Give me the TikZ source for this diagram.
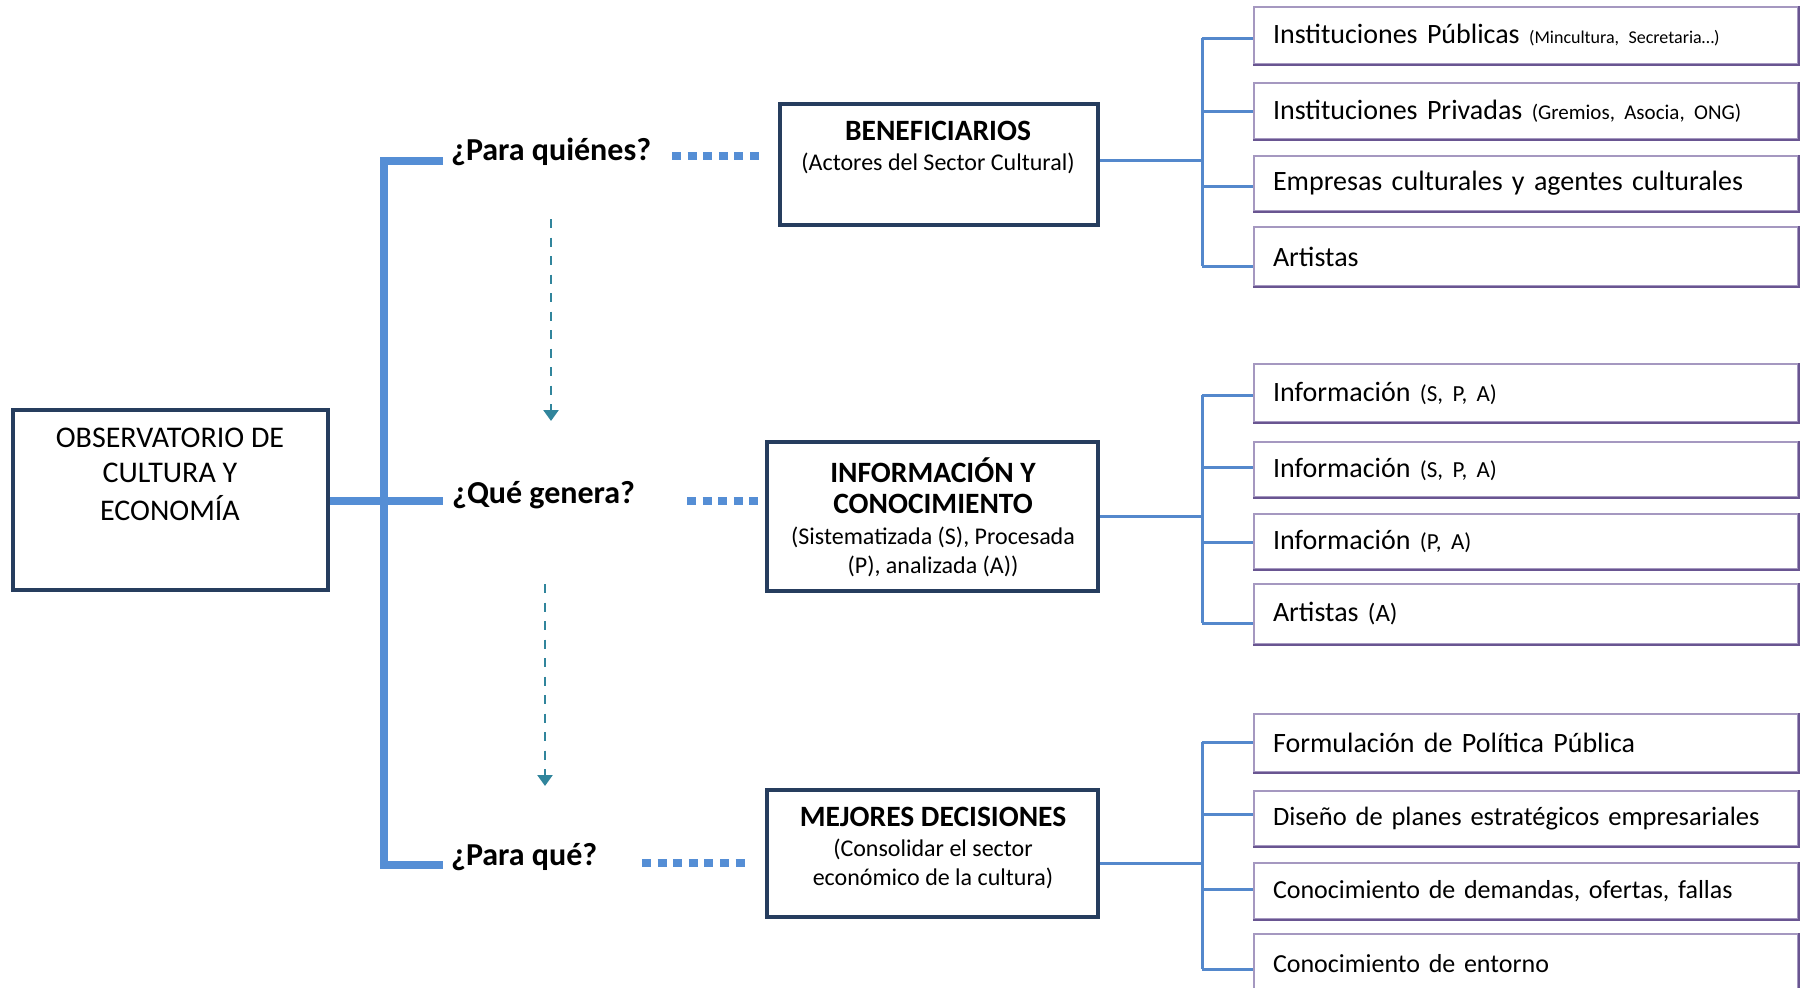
\documentclass[tikz,border=0pt]{standalone}
\usepackage{fontspec}
\setmainfont{Carlito}
\usetikzlibrary{arrows.meta}
\definecolor{thickblue}{RGB}{85,142,213}
\definecolor{navybox}{RGB}{38,61,94}
\definecolor{arrowteal}{RGB}{49,133,156}
\definecolor{connblue}{RGB}{84,136,204}
\definecolor{boxlight}{RGB}{165,152,192}
\definecolor{boxdark}{RGB}{105,85,145}
\tikzset{
  mainbox/.style={draw=navybox, line width=4pt, inner sep=0pt, fill=white},
  itembox/.style={draw=boxlight, line width=2pt, minimum width=544pt, inner sep=0pt,
    text width=506pt, align=left, font=\fontsize{28}{34}\selectfont},
  darkedge/.style={draw=boxdark, line width=2pt, line join=miter},
  qlabel/.style={anchor=west, inner sep=0pt, font=\fontsize{32}{38}\selectfont\bfseries},
  ttl/.style={inner sep=0pt, font=\fontsize{29.5}{34}\selectfont\bfseries},
  sub/.style={inner sep=0pt, font=\fontsize{24}{29}\selectfont},
  obstext/.style={inner sep=0pt, font=\fontsize{30}{35}\selectfont},
  spine/.style={draw=thickblue, line width=8pt},
  dots/.style={draw=thickblue, line width=7.5pt, dash pattern=on 9pt off 6.6pt},
  tealarrow/.style={draw=arrowteal, line width=2.5pt, dash pattern=on 9pt off 9.5pt,
    -{Triangle[length=11pt,width=15pt]}},
  conn/.style={draw=connblue, line width=3pt},
}
\begin{document}
\begin{tikzpicture}[x=1pt,y=-1pt]
\useasboundingbox (0,0) rectangle (1802,988);
\clip (0,0) rectangle (1802,988);

% main left box
\node[mainbox, minimum width=315pt, minimum height=180pt] (obs) at (170.5,500) {};
\node[obstext] (obs1) at (170,438) {OBSERVATORIO DE};
\node[obstext] (obs2) at (170,473) {CULTURA Y};
\node[obstext] (obs3) at (170,508) {ECONOMÍA};

% thick spine
\coordinate (tq1) at (443,161);
\coordinate (tq2) at (443,501);
\coordinate (tq3) at (443,865);
\coordinate (sp1) at (384,161);
\coordinate (sp3) at (384,865);
\draw[spine, line join=miter] (tq1) -- (sp1) -- (sp3) -- (tq3);
\draw[spine] (obs.east |- tq2) -- (tq2);

% question labels
\node[qlabel] (q1) at (451,152) {¿Para quiénes?};
\node[qlabel] (q2) at (452,495) {¿Qué genera?};
\node[qlabel] (q3) at (451,857) {¿Para qué?};

% middle boxes
\node[mainbox, minimum width=318pt, minimum height=121pt] (ben) at (939,164.5) {};
\node[ttl] (ben1) at (938,131) {BENEFICIARIOS};
\node[sub] (ben2) at (938,163) {(Actores del Sector Cultural)};

\node[mainbox, minimum width=331pt, minimum height=149pt] (info) at (932.5,516.5) {};
\node[ttl] (info1) at (933,470) {INFORMACIÓN Y};
\node[ttl] (info2) at (933,504) {CONOCIMIENTO};
\node[sub] (info3) at (933,537) {(Sistematizada (S), Procesada};
\node[sub] (info4) at (933,566) {(P), analizada (A))};

\node[mainbox, minimum width=331pt, minimum height=127pt] (mej) at (932.5,853.5) {};
\node[ttl] (mej1) at (933,817) {MEJORES DECISIONES};
\node[sub] (mej2) at (933,849) {(Consolidar el sector};
\node[sub] (mej3) at (933,878) {económico de la cultura)};

% dotted links
\coordinate (d1s) at (672,156); \coordinate (d1e) at (759,156);
\coordinate (d2s) at (687,501); \coordinate (d2e) at (759,501);
\coordinate (d3s) at (642,863); \coordinate (d3e) at (746,863);
\draw[dots] (d1s) -- (d1e);
\draw[dots] (d2s) -- (d2e);
\draw[dots] (d3s) -- (d3e);

% teal dashed arrows
\coordinate (a1s) at (551,219); \coordinate (a1e) at (551,421);
\coordinate (a2s) at (545,584); \coordinate (a2e) at (545,786);
\draw[tealarrow] (a1s) -- (a1e);
\draw[tealarrow] (a2s) -- (a2e);

% right boxes group 1
\node[itembox, minimum height=57pt] (r11) at (1526,35.5) {Instituciones Públicas {\fontsize{18}{20}\selectfont (Mincultura, Secretaria…)}};
\node[itembox, minimum height=56pt] (r12) at (1526,111) {Instituciones Privadas {\fontsize{21}{24}\selectfont (Gremios, Asocia, ONG)}};
\node[itembox, minimum height=55pt] (r13) at (1526,183.5) {Empresas culturales y agentes culturales};
\node[itembox, minimum height=59pt] (r14) at (1526,256.5) {Artistas};

% group 2
\node[itembox, minimum height=58pt] (r21) at (1526,393) {Información {\fontsize{23}{26}\selectfont (S, P, A)}};
\node[itembox, minimum height=55pt] (r22) at (1526,469.5) {Información {\fontsize{23}{26}\selectfont (S, P, A)}};
\node[itembox, minimum height=55pt] (r23) at (1526,541.5) {Información {\fontsize{23}{26}\selectfont (P, A)}};
\node[itembox, minimum height=60pt] (r24) at (1526,614) {Artistas {\fontsize{25}{28}\selectfont (A)}};

% group 3
\node[itembox, minimum height=58pt] (r31) at (1526,743) {Formulación de Política Pública};
\node[itembox, minimum height=55pt, font=\fontsize{26.5}{32}\selectfont] (r32) at (1526,818.5) {Diseño de planes estratégicos empresariales};
\node[itembox, minimum height=56pt, font=\fontsize{26}{32}\selectfont] (r33) at (1526,891) {Conocimiento de demandas, ofertas, fallas};
\node[itembox, minimum height=60pt, font=\fontsize{26}{32}\selectfont] (r34) at (1526,964) {Conocimiento de entorno};

% darker bottom and right edges of the item boxes
\foreach \n in {r11,r12,r13,r14,r21,r22,r23,r24,r31,r32,r33,r34}
  \draw[darkedge] (\n.south west) -- (\n.south east) -- (\n.north east);

% connectors group 1
\coordinate (h1) at (1202,160);
\coordinate (b11) at (1202,38); \coordinate (b12) at (1202,111);
\coordinate (b13) at (1202,186); \coordinate (b14) at (1202,266);
\draw[conn] (ben.east |- h1) -- (h1);
\draw[conn] (b11) -- (b14);
\draw[conn] (b11) -- (b11 -| r11.west);
\draw[conn] (b12) -- (b12 -| r12.west);
\draw[conn] (b13) -- (b13 -| r13.west);
\draw[conn] (b14) -- (b14 -| r14.west);

% connectors group 2
\coordinate (h2) at (1202,516);
\coordinate (b21) at (1202,395); \coordinate (b22) at (1202,467);
\coordinate (b23) at (1202,542); \coordinate (b24) at (1202,623);
\draw[conn] (info.east |- h2) -- (h2);
\draw[conn] (b21) -- (b24);
\draw[conn] (b21) -- (b21 -| r21.west);
\draw[conn] (b22) -- (b22 -| r22.west);
\draw[conn] (b23) -- (b23 -| r23.west);
\draw[conn] (b24) -- (b24 -| r24.west);

% connectors group 3
\coordinate (h3) at (1202,863);
\coordinate (b31) at (1202,742); \coordinate (b32) at (1202,814);
\coordinate (b33) at (1202,889); \coordinate (b34) at (1202,969);
\draw[conn] (mej.east |- h3) -- (h3);
\draw[conn] (b31) -- (b34);
\draw[conn] (b31) -- (b31 -| r31.west);
\draw[conn] (b32) -- (b32 -| r32.west);
\draw[conn] (b33) -- (b33 -| r33.west);
\draw[conn] (b34) -- (b34 -| r34.west);
\end{tikzpicture}
\end{document}
